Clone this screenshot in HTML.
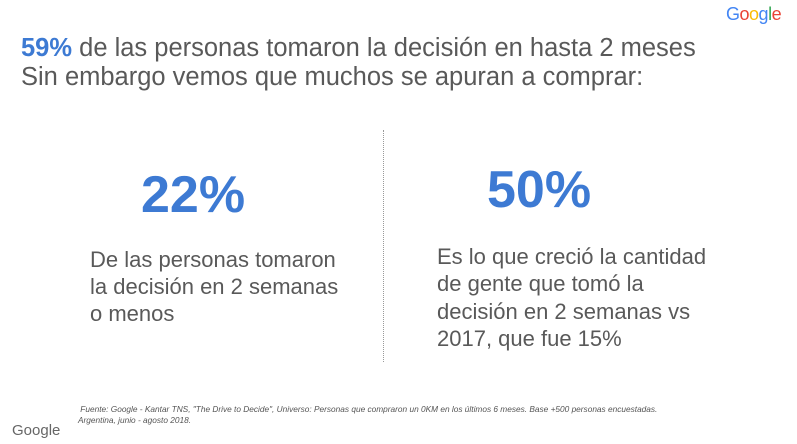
<!DOCTYPE html>
<html><head><meta charset="utf-8"><style>
body{margin:0;width:797px;height:444px;background:#fff;position:relative;overflow:hidden;font-family:"Liberation Sans",Arial,sans-serif;}
.a{position:absolute;white-space:nowrap;}
</style></head><body>
<div class="a" style="left:726px;top:4px;font-size:18px;letter-spacing:-0.5px"><span style="color:#4285f4">G</span><span style="color:#ea4335">o</span><span style="color:#fbbc05">o</span><span style="color:#4285f4">g</span><span style="color:#34a853">l</span><span style="color:#ea4335">e</span></div>
<div class="a" style="left:21px;top:34px;font-size:25.5px;line-height:29px;color:#595959"><span style="color:#3d7ad3;font-weight:bold">59%</span> de las personas tomaron la decisión en hasta 2 meses<br>Sin embargo vemos que muchos se apuran a comprar:</div>
<div class="a" style="left:383px;top:130px;height:232px;border-left:1px dotted #999"></div>
<div class="a" style="left:141px;top:165px;font-size:52px;font-weight:bold;color:#3d7ad3">22%</div>
<div class="a" style="left:90px;top:246px;font-size:22px;line-height:27px;color:#595959">De las personas tomaron<br>la decisión en 2 semanas<br>o menos</div>
<div class="a" style="left:487px;top:160px;font-size:52px;font-weight:bold;color:#3d7ad3">50%</div>
<div class="a" style="left:437px;top:243px;font-size:22px;line-height:27.3px;color:#595959">Es lo que creció la cantidad<br>de gente que tomó la<br>decisión en 2 semanas vs<br>2017, que fue 15%</div>
<div class="a" style="left:78px;top:404px;font-size:8.3px;line-height:11px;font-style:italic;color:#555">&nbsp;Fuente: Google - Kantar TNS, "The Drive to Decide", Universo: Personas que compraron un 0KM en los últimos 6 meses. Base +500 personas encuestadas.<br>Argentina, junio - agosto 2018.</div>
<div class="a" style="left:12px;top:422px;font-size:15px;color:#666">Google</div>
</body></html>
